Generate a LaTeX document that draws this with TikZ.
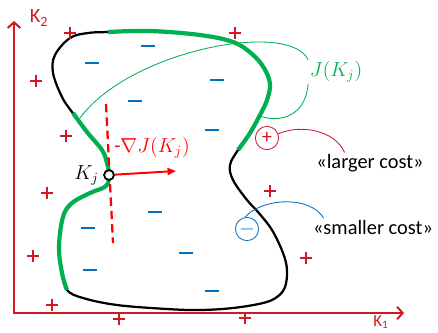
\documentclass[tikz,border=0pt]{standalone}
\usepackage{amsmath, amssymb}
\usepackage{fontspec}
\setmainfont{Carlito}
\usepackage{tikz}
\usetikzlibrary{arrows.meta, positioning, calc}

\definecolor{axisred}{RGB}{210,25,35}
\definecolor{gradred}{RGB}{255,0,0}
\definecolor{costgreen}{RGB}{0,176,80}
\definecolor{costblue}{RGB}{0,112,192}

\begin{document}
\begin{tikzpicture}[
        x=0.025cm, y=-0.025cm,
        % Estilos
        axis/.style={draw=axisred, line width=1.4pt, {Straight Barb[length=4pt, width=9pt]}-{Straight Barb[length=4pt, width=9pt]}},
        blob/.style={draw=black, line width=1.6pt},
        level/.style={draw=costgreen, line width=3pt},
        leader/.style={line width=0.6pt},
        plusmark/.style={draw=axisred, line width=0.9pt},
        minusmark/.style={draw=costblue, line width=1.4pt},
        signbox/.style={circle, draw, line width=0.6pt, minimum size=16.5pt, inner sep=0pt, font=\Large},
        costlabel/.style={font=\fontsize{14.5}{16}\selectfont, text=black, inner sep=1pt},
        mathlabel/.style={font=\Large, inner sep=1pt},
        gradarrow/.style={-{Triangle[length=6pt, width=5pt]}, line width=1.4pt, draw=gradred},
        gradline/.style={draw=gradred, line width=1.6pt, dash pattern=on 6pt off 3.5pt}
    ]
    \useasboundingbox (0,0) rectangle (438,332);

    % 1. Eixos
    \coordinate (origin) at (14,313);
    \coordinate (k2end) at (14,21);
    \coordinate (k1end) at (404,313);
    \draw [axis] (k2end) -- (origin) -- (k1end);
    \node (k2lbl) [text=axisred, font=\Large] at (39,18) {K\textsubscript{2}};
    \node (k1lbl) [text=axisred, font=\large] at (381,322) {K\textsubscript{1}};

    % 2. Regiao
    \draw [blob] plot[smooth cycle, tension=0.6] coordinates {
        (108,32) (150,31) (200,35) (233,42) (252,54) (264,68) (270,84) (267,100) (261,113)
        (250,133) (238,150) (230,165) (233,180) (247,200) (258,212) (272,230) (283,253)
        (287,270) (285,287) (277,297) (263,303) (233,308) (200,310) (167,309) (117,305)
        (83,298) (67,290) (62,273) (59,247) (63,217) (72,203) (90,193) (106,186) (109,175)
        (107,163) (102,150) (87,132) (72,112) (62,97) (53,73) (55,55) (70,38) (88,33)};

    % 3. Curva de nivel (verde)
    \draw [level] plot[smooth, tension=0.6] coordinates {
        (108,32) (150,31) (200,35) (233,42) (252,54) (264,68) (270,84) (267,100) (261,113)
        (250,133) (238,150)};
    \draw [level] plot[smooth, tension=0.6] coordinates {
        (73,113) (87,132) (102,150) (107,163) (109,175) (106,186) (90,193) (72,203)
        (63,217) (59,247) (62,273) (67,290)};

    \node (jlbl) [mathlabel, text=costgreen] at (336,72) {$J(K_j)$};
    \coordinate (jleft) at (80,118);
    \coordinate (jright) at (260,116);
    \draw [leader, costgreen] (jleft) .. controls (130,50) and (290,20) .. (jlbl.north west);
    \draw [leader, costgreen] (jlbl.south west) .. controls (305,120) and (275,122) .. (jright);

    % 4. Sinais
    \foreach \px/\py in {70/33, 36/81, 66/136, 235/33, 47/193, 33/256, 52/305, 119/319, 270/191, 306/258, 245/318}
        \draw [plusmark] (\px,\py) +(-6,0) -- +(6,0) +(0,-6) -- +(0,6);
    \foreach \mx/\my in {92/63, 148/46, 217/80, 135/101, 212/130, 155/212, 88/228, 186/253, 90/270, 212/291}
        \draw [minusmark] (\mx-7,\my) -- (\mx+7,\my);

    % 5. Gradiente
    \coordinate (gtop) at (106,104);
    \coordinate (gbot) at (113,243);
    \coordinate (gradend) at (176,171);
    \draw [gradline] (gtop) -- (gbot);
    \node (kj) [circle, draw, fill=white, line width=1.3pt, minimum size=7pt, inner sep=0pt] at (109,175) {};
    \draw [gradarrow] (kj) -- (gradend);
    \node (kjlbl) [mathlabel, left=2pt of kj] {$K_j$};
    \node (gradlbl) [mathlabel, text=gradred] at (152,148) {-$\nabla J(K_j)$};

    % 6. Legenda dos custos
    \node (pc) [signbox, draw=axisred, text=axisred] at (267,138) {+};
    \node (larger) [costlabel] at (370,163) {«larger cost»};
    \draw [leader, axisred] (pc.20) .. controls (300,124) and (335,130) .. ($(larger.north west)!0.27!(larger.north east)$);

    \node (mc) [signbox, draw=costblue, text=costblue] at (247,229) {$-$};
    \node (smaller) [costlabel] at (373,227) {«smaller cost»};
    \draw [leader, costblue] (mc.100) .. controls (262,198) and (310,195) .. ($(smaller.north west)!0.1!(smaller.north east)$);

\end{tikzpicture}
\end{document}
